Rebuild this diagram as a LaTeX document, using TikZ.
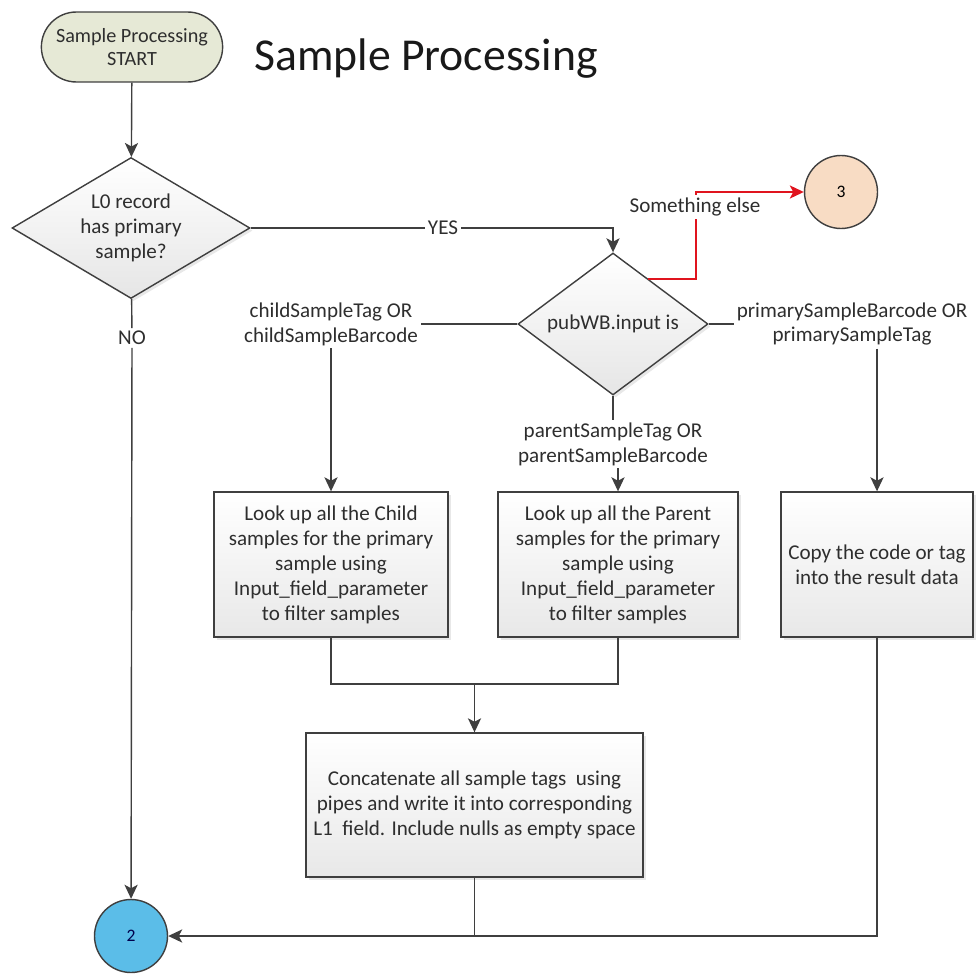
\documentclass[tikz,border=0pt]{standalone}
\usepackage{fontspec}
\setmainfont{Carlito}
\usepackage{tikz}
\usetikzlibrary{shapes.geometric}
\usetikzlibrary{shapes.misc}
\usetikzlibrary{calc}
\usetikzlibrary{shadows}
\usetikzlibrary{arrows.meta}
\definecolor{linegray}{HTML}{3F3F3F}
\definecolor{textgray}{HTML}{2E2E2E}
\definecolor{startfill}{HTML}{E6E9D6}
\definecolor{bluefill}{HTML}{5BBDE8}
\definecolor{peachfill}{HTML}{F8DCC4}
\definecolor{redline}{HTML}{E0141E}
\tikzset{
	plain/.style={draw=linegray,line width=0.8pt},
	flow/.style={plain,-{Stealth[length=8pt,width=7.5pt,inset=2pt]}},
	redflow/.style={draw=redline,line width=0.8pt,-{Stealth[length=8pt,width=7.5pt,inset=2pt]}},
	softshadow/.style={drop shadow={opacity=0.18,shadow xshift=1.5pt,shadow yshift=-1.5pt}},
	procbox/.style={rectangle,draw=linegray,line width=0.8pt,top color=white,bottom color=black!9,softshadow,align=center,text=textgray,font=\fontsize{12}{14.2}\selectfont,inner sep=2pt},
	decision/.style={diamond,aspect=1.7,draw=linegray,line width=0.8pt,top color=white,bottom color=black!10,softshadow,align=center,text=textgray,font=\fontsize{12}{14.2}\selectfont,inner sep=0pt},
	termnode/.style={rounded rectangle,draw=linegray,line width=0.8pt,fill=startfill,align=center,text=textgray,font=\fontsize{11.5}{13.5}\selectfont,minimum width=3.86cm,minimum height=1.4cm},
	connnode/.style={circle,draw=linegray,line width=0.8pt,minimum size=1.46cm,inner sep=0pt,font=\fontsize{10}{12}\selectfont},
	lbl/.style={fill=white,align=center,text=textgray,font=\fontsize{12}{14.2}\selectfont,inner sep=1.5pt}
}

\begin{document}
\begin{tikzpicture}[x=0.02cm,y=-0.02cm]
	\useasboundingbox (0,0) rectangle (976,973);
	\node[termnode] (start) at (132,47) {Sample Processing\\START};
	\node[anchor=base west,text=black!90,font=\fontsize{26}{30}\selectfont] (title) at (248,71) {Sample Processing};
	\node[decision,minimum width=4.76cm,minimum height=2.82cm] (d1) at (131,228) {L0 record\\has primary\\sample?};
	\node[decision,minimum width=3.8cm,minimum height=2.84cm] (d2) at (613,324) {pubWB.input is};
	\node[connnode,fill=peachfill] (c3) at (841,192) {3};
	\node[connnode,fill=bluefill,text=blue!30!black] (c2) at (131,936) {2};
	\node[lbl] (yes) at (443,228) {YES};
	\node[lbl] (no) at (132,338) {NO};
	\node[lbl] (cl) at (331,324) {childSampleTag OR\\childSampleBarcode};
	\node[lbl] (pal) at (613,444) {parentSampleTag OR\\parentSampleBarcode};
	\node[lbl] (pl) at (852,324) {primarySampleBarcode OR\\primarySampleTag};
	\node[procbox,minimum width=4.68cm,minimum height=2.9cm] (child) at (331,564.5) {Look up all the Child\\samples for the primary\\sample using\\Input\_field\_parameter\\to filter samples};
	\node[procbox,minimum width=4.8cm,minimum height=2.9cm] (parent) at (618,564.5) {Look up all the Parent\\samples for the primary\\sample using\\Input\_field\_parameter\\to filter samples};
	\node[procbox,minimum width=3.84cm,minimum height=2.9cm] (copy) at (877,564.5) {Copy the code or tag\\into the result data};
	\node[procbox,minimum width=6.74cm,minimum height=2.88cm] (concat) at (474.5,805) {Concatenate all sample tags~ using\\pipes and write it into corresponding\\L1~ field. Include nulls as empty space};
	\coordinate (join) at (474.5,684);
	\coordinate (rbend) at (696,192);
	\draw[flow] (start) -- (d1);
	\draw[plain] (d1) -- (yes);
	\draw[flow] (yes) -| (d2);
	\draw[plain] (d1) -- (no);
	\draw[flow] (no) -- (c2);
	\draw[plain] (d2) -- (cl);
	\draw[flow] (cl) -- (child);
	\draw[plain] (d2) -- (pal);
	\draw[flow] (pal.south -| parent) -- (parent);
	\draw[plain] (d2) -- (pl);
	\draw[flow] (pl.south -| copy) -- (copy);
	\draw[plain] (child) |- (join) -| (parent);
	\draw[flow] (join) -- (concat);
	\draw[plain] (concat) -- (concat.south |- c2.east);
	\draw[flow] (copy) |- (c2);
	\draw[redflow] ($(d2.north)!0.37!(d2.east)$) -| (rbend) -- (c3);
	\node[lbl] (selse) at (695,207) {Something else};
\end{tikzpicture}
\end{document}
